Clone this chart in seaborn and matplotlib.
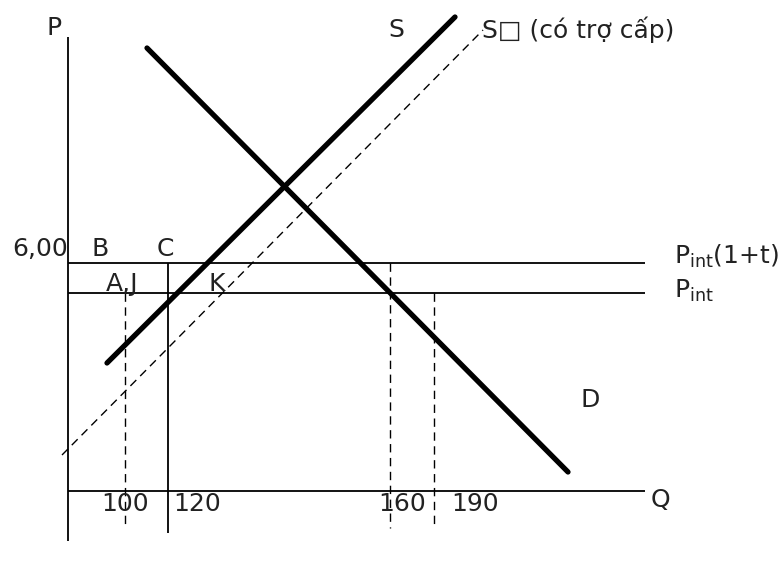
import pandas as pd
import matplotlib.pyplot as plt
import seaborn as sns

# diagram laid out on a 782 x 571 canvas (x to the right, y downward)
sns.set_theme(style="white")
plt.rcParams['font.family'] = ['DejaVu Sans']
plt.rcParams['mathtext.fontset'] = 'dejavusans'

# curves: (x0, y0) -> (x1, y1)
supply_x = [107, 455]
supply_y = [363, 17]
demand_x = [147, 568]
demand_y = [48, 472]
subsidy_x = [62, 483]
subsidy_y = [455, 30]

# price levels
p_int_tax_y = 263
p_int_y = 293
origin_x = 68
axis_y = 491
axis_end_x = 645

# quantities marked on the Q axis
q_pos = [125, 168, 390, 434]
q_labels = ["100", "120", "160", "190"]
q_top = [p_int_y, p_int_tax_y, p_int_tax_y, p_int_y]
q_bottom = [528, 533, 528, 526]
q_dashed = [True, False, True, True]

fig = plt.figure(figsize=(7.82, 5.71), dpi=100)
ax = fig.add_axes([0, 0, 1, 1])

# axes of the diagram
ax.vlines(origin_x, 37, 541, color='black', lw=1.3)
ax.hlines(axis_y, origin_x, axis_end_x, color='black', lw=1.3)

# price lines
ax.hlines([p_int_tax_y, p_int_y], origin_x, axis_end_x, color='black', lw=1.3)

# quantity drop lines
for x, top, bot, dashed in zip(q_pos, q_top, q_bottom, q_dashed):
    ax.vlines(x, top, bot, color='black', lw=1.0 if dashed else 1.3,
              linestyles=(0, (6, 4)) if dashed else 'solid')

# supply, demand and subsidised supply
curves = pd.DataFrame({
    'x': supply_x + demand_x + subsidy_x,
    'y': supply_y + demand_y + subsidy_y,
    'curve': ['S'] * 2 + ['D'] * 2 + ['S2'] * 2,
})
sns.lineplot(data=curves[curves.curve == 'S'], x='x', y='y', sort=False,
             color='black', lw=3.8, ax=ax)
sns.lineplot(data=curves[curves.curve == 'D'], x='x', y='y', sort=False,
             color='black', lw=3.8, ax=ax)
sns.lineplot(data=curves[curves.curve == 'S2'], x='x', y='y', sort=False,
             color='black', lw=1.0, ax=ax)
ax.lines[-1].set_linestyle((0, (6, 4)))
ax.set_xlim(0, 782)
ax.set_ylim(571, 0)
ax.axis('off')

fs = 18
txt = dict(color='#222222', fontsize=fs, va='center')
ax.text(54, 28, "P", ha='center', **txt)
ax.text(660, 500, "Q", ha='center', **txt)
ax.text(396, 30, "S", ha='center', **txt)
ax.text(482, 30, "S\u25a1 (có trợ cấp)", ha='left', **txt)
ax.text(590, 400, "D", ha='center', **txt)
ax.text(674, 256, r"P$_{\mathrm{int}}$(1+t)", ha='left', **txt)
ax.text(674, 291, r"P$_{\mathrm{int}}$", ha='left', **txt)
ax.text(68, 249, "6,00", ha='right', **txt)
ax.text(100, 249, "B", ha='center', **txt)
ax.text(165, 249, "C", ha='center', **txt)
ax.text(122, 284, "A,J", ha='center', **txt)
ax.text(217, 284, "K", ha='center', **txt)

q_text_x = [125, 197, 402, 475]
for x, lab in zip(q_text_x, q_labels):
    ax.text(x, 504, lab, ha='center', **txt)

fig.savefig('out.png', dpi=100)
